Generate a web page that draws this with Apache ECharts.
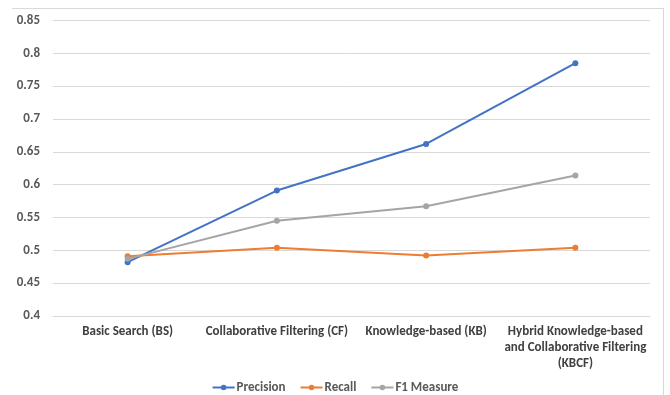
<!DOCTYPE html>
<html>
<head>
<meta charset="utf-8">
<script src="https://cdn.jsdelivr.net/npm/echarts@6/dist/echarts.min.js"></script>
<style>
  html, body { margin: 0; padding: 0; background: #fff; }
  #chart { width: 670px; height: 395px; }
</style>
</head>
<body>
<div id="chart"></div>
<script>
// Recommendation approaches compared on three metrics
const categories = [
  'Basic Search (BS)',
  'Collaborative Filtering (CF)',
  'Knowledge-based (KB)',
  'Hybrid Knowledge-based\nand Collaborative Filtering\n(KBCF)'
];
const precision = [0.482, 0.591, 0.662, 0.785];
const recall = [0.491, 0.504, 0.492, 0.504];
const f1Measure = [0.487, 0.545, 0.567, 0.614];
const yTicks = { min: 0.4, max: 0.85, step: 0.05 };

const colors = ['#4472C4', '#ED7D31', '#A5A5A5'];
const font = 'Calibri, Carlito, Lato, "Liberation Sans", sans-serif';

function lineSeries(name, data, color) {
  return {
    name: name,
    type: 'line',
    data: data,
    symbol: 'circle',
    symbolSize: 6,
    lineStyle: { width: 2, color: color },
    itemStyle: { color: color },
    emphasis: { disabled: true }
  };
}

const chart = echarts.init(document.getElementById('chart'), null, { renderer: 'canvas' });
chart.setOption({
  animation: false,
  color: colors,
  textStyle: { fontFamily: font },
  graphic: [
    { type: 'line', shape: { x1: 12, y1: 8.5, x2: 663, y2: 8.5 }, style: { stroke: '#d9d9d9', lineWidth: 1 }, silent: true },
    { type: 'line', shape: { x1: 663.5, y1: 8, x2: 663.5, y2: 395 }, style: { stroke: '#d9d9d9', lineWidth: 1 }, silent: true }
  ],
  grid: { left: 53, right: 20, top: 20.5, bottom: 79, containLabel: false },
  legend: {
    top: 376,
    left: 'center',
    itemWidth: 22,
    itemHeight: 7,
    itemGap: 14,
    textStyle: { color: '#595959', fontSize: 13, fontWeight: 'bold', fontFamily: font, padding: [0, 0, 0, -3] },
    data: ['Precision', 'Recall', 'F1 Measure']
  },
  xAxis: {
    type: 'category',
    data: categories,
    boundaryGap: true,
    axisLine: { show: true, lineStyle: { color: '#d9d9d9' } },
    axisTick: { show: false },
    axisLabel: {
      interval: 0,
      color: '#404040',
      fontSize: 13,
      fontWeight: 'bold',
      lineHeight: 16,
      margin: 8,
      fontFamily: font
    }
  },
  yAxis: {
    type: 'value',
    min: yTicks.min,
    max: yTicks.max,
    interval: yTicks.step,
    axisLine: { show: false },
    axisTick: { show: false },
    splitLine: { lineStyle: { color: '#d9d9d9', width: 1 } },
    axisLabel: {
      color: '#595959',
      fontSize: 13,
      fontWeight: 'bold',
      margin: 13,
      fontFamily: font,
      formatter: v => String(parseFloat(v.toFixed(2)))
    }
  },
  series: [
    lineSeries('Precision', precision, colors[0]),
    lineSeries('Recall', recall, colors[1]),
    lineSeries('F1 Measure', f1Measure, colors[2])
  ]
});
</script>
</body>
</html>
